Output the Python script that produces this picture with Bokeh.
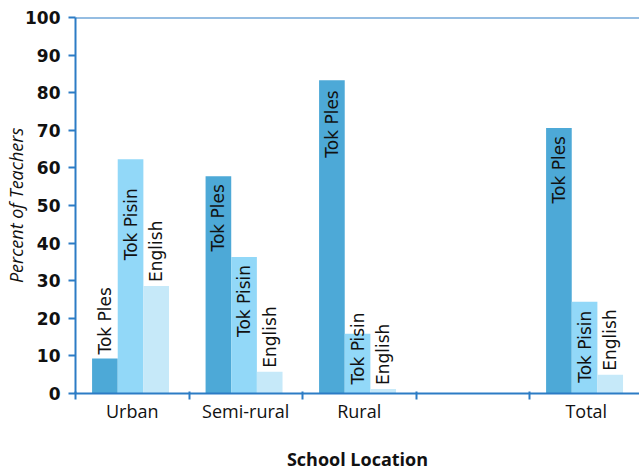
import math
from bokeh.plotting import figure
from bokeh.models import Range1d, FixedTicker, LinearAxis, Span, ColumnDataSource
from bokeh.core.properties import value
from bokeh.embed import file_html
from bokeh.resources import INLINE

# ---- data ----
categories = ["Urban", "Semi-rural", "Rural", "", "Total"]
series = ["Tok Ples", "Tok Pisin", "English"]
tok_ples = [9.3, 57.8, 83.3, None, 70.6]
tok_pisin = [62.3, 36.3, 15.9, None, 24.4]
english = [28.6, 5.8, 1.2, None, 5.0]
y_ticks = list(range(0, 101, 10))

# ---- style ----
colors = ["#4DA9D7", "#92D8F8", "#C6E9F9"]
axis_blue = "#2C7CC5"
bar_width = 0.226
offsets = [-0.241, -0.015, 0.211]
# label placement per bar: "in" = inside top, "out" = above bar, "base" = from baseline
placements = [
    ["out", "in", "in", None, "in"],
    ["in", "in", "base", None, "in"],
    ["out", "out", "out", None, "out"],
]
in_extra = [
    [0, 0, 2, 0, 0],
    [21, 0, 0, 0, 1],
    [0, 0, 0, 0, 0],
]

p = figure(width=639, height=473, output_backend="svg", toolbar_location=None,
           x_range=Range1d(0, 4.969), y_range=Range1d(0, 100),
           x_axis_location=None, y_axis_location=None,
           min_border_left=75, min_border_top=17, min_border_right=0, min_border_bottom=79)
p.outline_line_color = None
p.grid.visible = False
p.background_fill_color = "white"

font = "Open Sans"
for s_i, vals in enumerate([tok_ples, tok_pisin, english]):
    xs, tops = [], []
    lx, ly, la, lo = [], [], [], []
    for c_i, v in enumerate(vals):
        if v is None:
            continue
        x = c_i + 0.5 + offsets[s_i]
        xs.append(x)
        tops.append(v)
        mode = placements[s_i][c_i]
        lx.append(x)
        if mode == "in":
            ly.append(v); la.append("right"); lo.append(8 + in_extra[s_i][c_i])
        elif mode == "out":
            ly.append(v); la.append("left"); lo.append(-4)
        else:
            ly.append(0); la.append("left"); lo.append(-9)
    p.vbar(x=xs, top=tops, bottom=0, width=bar_width, fill_color=colors[s_i], line_color=None)
    src = ColumnDataSource(dict(x=lx, y=ly, align=la, off=lo, txt=[series[s_i]] * len(lx)))
    p.text(x="x", y="y", text="txt", source=src, angle=math.pi / 2,
           text_align="align", text_baseline="middle", y_offset="off",
           text_font=value("DejaVu Sans"), text_font_size="17px", text_color="#111111")

# top line
p.add_layout(Span(location=100, dimension="width", line_color=axis_blue, line_width=2))

# y axis
yax = LinearAxis(ticker=FixedTicker(ticks=y_ticks, minor_ticks=[]))
yax.axis_line_color = axis_blue
yax.axis_line_width = 2
yax.major_tick_line_color = axis_blue
yax.major_tick_line_width = 2
yax.major_tick_out = 7
yax.major_tick_in = 0
yax.major_label_standoff = 8
yax.major_label_text_font = "DejaVu Sans"
yax.major_label_text_font_style = "bold"
yax.major_label_text_font_size = "17px"
yax.major_label_text_color = "#111111"
yax.axis_label = "Percent of Teachers"
yax.axis_label_text_font = font
yax.axis_label_text_font_style = "italic"
yax.axis_label_text_font_size = "18px"
yax.axis_label_text_color = "#111111"
yax.axis_label_standoff = -6
p.add_layout(yax, "left")

# x axis: labels at category centres, ticks at boundaries
centres = [i + 0.5 for i, c in enumerate(categories) if c]
bounds = list(range(len(categories) + 1))
xax = LinearAxis(ticker=FixedTicker(ticks=centres, minor_ticks=bounds))
xax.major_label_overrides = {i + 0.5: c for i, c in enumerate(categories) if c}
xax.axis_line_color = axis_blue
xax.axis_line_width = 2
xax.major_tick_line_color = None
xax.major_tick_out = 0
xax.major_tick_in = 0
xax.minor_tick_line_color = axis_blue
xax.minor_tick_line_width = 2
xax.minor_tick_out = 6
xax.minor_tick_in = 2
xax.major_label_standoff = -1
xax.major_label_text_font = font
xax.major_label_text_font_size = "18px"
xax.major_label_text_color = "#111111"
xax.axis_label = "School Location"
xax.axis_label_text_font = font
xax.axis_label_text_font_style = "bold"
xax.axis_label_text_font_size = "18px"
xax.axis_label_text_color = "#111111"
xax.axis_label_standoff = 21
p.add_layout(xax, "below")

open("out.html", "w").write(file_html(p, INLINE))
